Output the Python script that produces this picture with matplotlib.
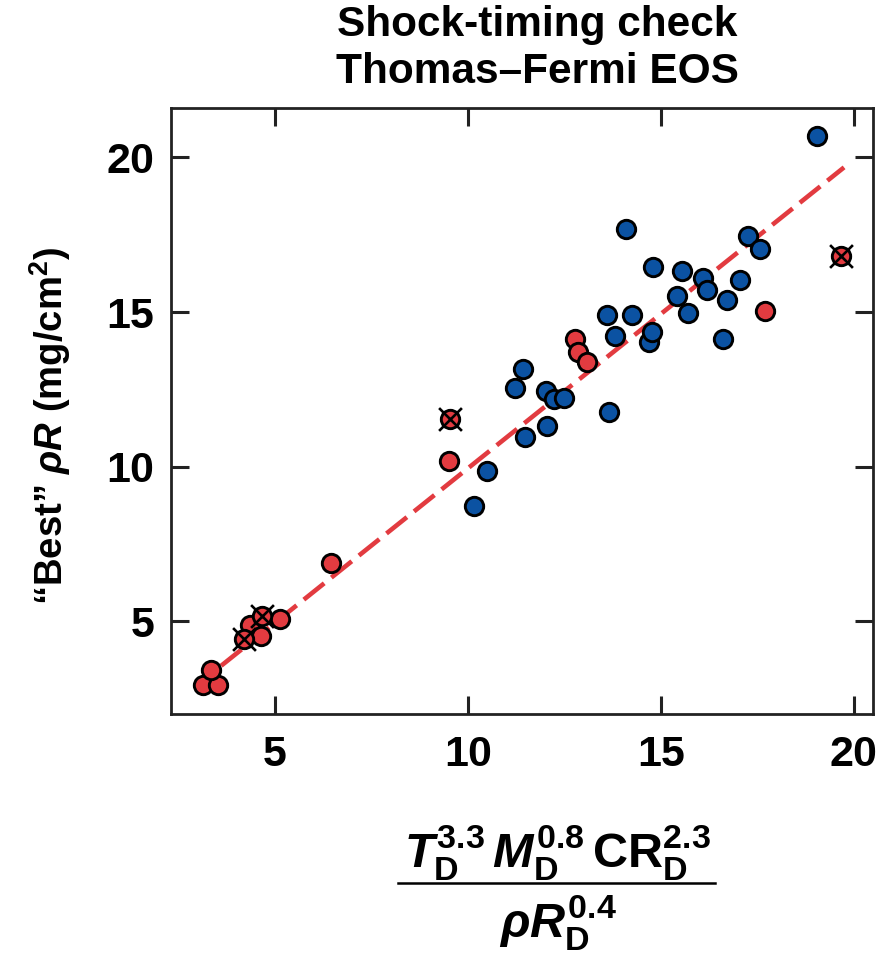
import matplotlib
matplotlib.use("Agg")
import matplotlib.pyplot as plt
from matplotlib.lines import Line2D

plt.rcParams['font.family'] = ['Liberation Sans', 'DejaVu Sans']
plt.rcParams['font.weight'] = 'bold'
plt.rcParams['mathtext.fontset'] = 'custom'
plt.rcParams['mathtext.rm'] = 'Liberation Sans:bold'
plt.rcParams['mathtext.it'] = 'Liberation Sans:bold:italic'
plt.rcParams['mathtext.bf'] = 'Liberation Sans:bold'
plt.rcParams['mathtext.sf'] = 'Liberation Sans:bold'

# ---- data ----
red_x = [3.14, 3.52, 3.34, 4.35, 4.63, 5.13, 6.45, 9.52, 12.78, 12.86, 13.09, 17.70]
red_y = [2.94, 2.94, 3.42, 4.87, 4.53, 5.06, 6.90, 10.17, 14.14, 13.72, 13.40, 15.02]

redx_x = [4.18, 4.66, 9.53, 19.68]
redx_y = [4.42, 5.17, 11.54, 16.82]

blue_x = [10.15, 10.48, 11.47, 12.05, 13.65, 11.23, 11.42, 12.01, 12.23, 12.50,
          13.61, 13.82, 14.26, 14.69, 14.76, 14.09, 14.80, 15.55, 16.10, 17.04,
          16.20, 15.42, 16.72, 15.70, 16.61, 17.27, 17.58, 19.05]
blue_y = [8.72, 9.87, 10.96, 11.30, 11.78, 12.55, 13.16, 12.45, 12.18, 12.21,
          14.90, 14.21, 14.90, 14.04, 14.34, 17.68, 16.45, 16.34, 16.09, 16.05,
          15.70, 15.53, 15.40, 14.97, 14.13, 17.47, 17.03, 20.71]

fit_x = [3.6, 19.75]
fit_y = [3.56, 19.68]

xticks = [5, 10, 15, 20]
yticks = [5, 10, 15, 20]

RED = '#E23B40'
BLUE = '#0B52A2'

fig = plt.figure(figsize=(8.92, 9.6), dpi=100)
ax = fig.add_axes([171/892, 1-714/960, (873-171)/892, (714-108)/960])

ax.plot(fit_x, fit_y, color=RED, lw=3.3, dashes=(5.7, 2.0), zorder=1)

s = 175
ax.scatter(red_x + redx_x, red_y + redx_y, s=s, c=RED, edgecolors='black', linewidths=2.1, zorder=3)
ax.scatter(blue_x, blue_y, s=s, c=BLUE, edgecolors='black', linewidths=2.1, zorder=3)
ax.scatter(redx_x, redx_y, s=270, marker='x', c='black', linewidths=1.9, zorder=4)

ax.set_xlim(2.3, 20.5)
ax.set_ylim(2.0, 21.6)
ax.set_xticks(xticks)
ax.set_yticks(yticks)
ax.set_xticklabels([str(t) for t in xticks])
ax.set_yticklabels([str(t) for t in yticks])
ax.tick_params(direction='in', length=13, width=2.2, labelsize=31, pad=12,
               top=True, right=True, color='#222222')
ax.tick_params(axis='x', pad=15)
for sp in ax.spines.values():
    sp.set_linewidth(2)
    sp.set_color('#222222')

# title
fig.text(537/892, 1-36/960, 'Shock-timing check', ha='center', va='baseline',
         fontsize=30.5, fontweight='bold')
fig.text(537/892, 1-83/960, 'Thomas\u2013Fermi EOS', ha='center', va='baseline',
         fontsize=30.5, fontweight='bold')

# y label
fig.text(50/892, 1-426/960, '\u201cBest\u201d $\\rho R$ (mg/cm$^\\mathrm{2}$)',
         rotation=90, ha='center', va='center', fontsize=27.5, fontweight='bold')

# x label (fraction)
fig.text(557/892, 1-867/960,
         r'$T_\mathrm{D}^{3.3}\,M_\mathrm{D}^{0.8}\,\mathrm{CR}_\mathrm{D}^{2.3}$',
         ha='center', va='baseline', fontsize=35)
fig.add_artist(Line2D([398/892, 715/892], [1-883/960, 1-883/960],
                      transform=fig.transFigure, color='black', lw=1.8))
fig.text(558/892, 1-937/960, r'$\rho R_\mathrm{D}^{0.4}$',
         ha='center', va='baseline', fontsize=35)

fig.savefig('out.png', dpi=100)
